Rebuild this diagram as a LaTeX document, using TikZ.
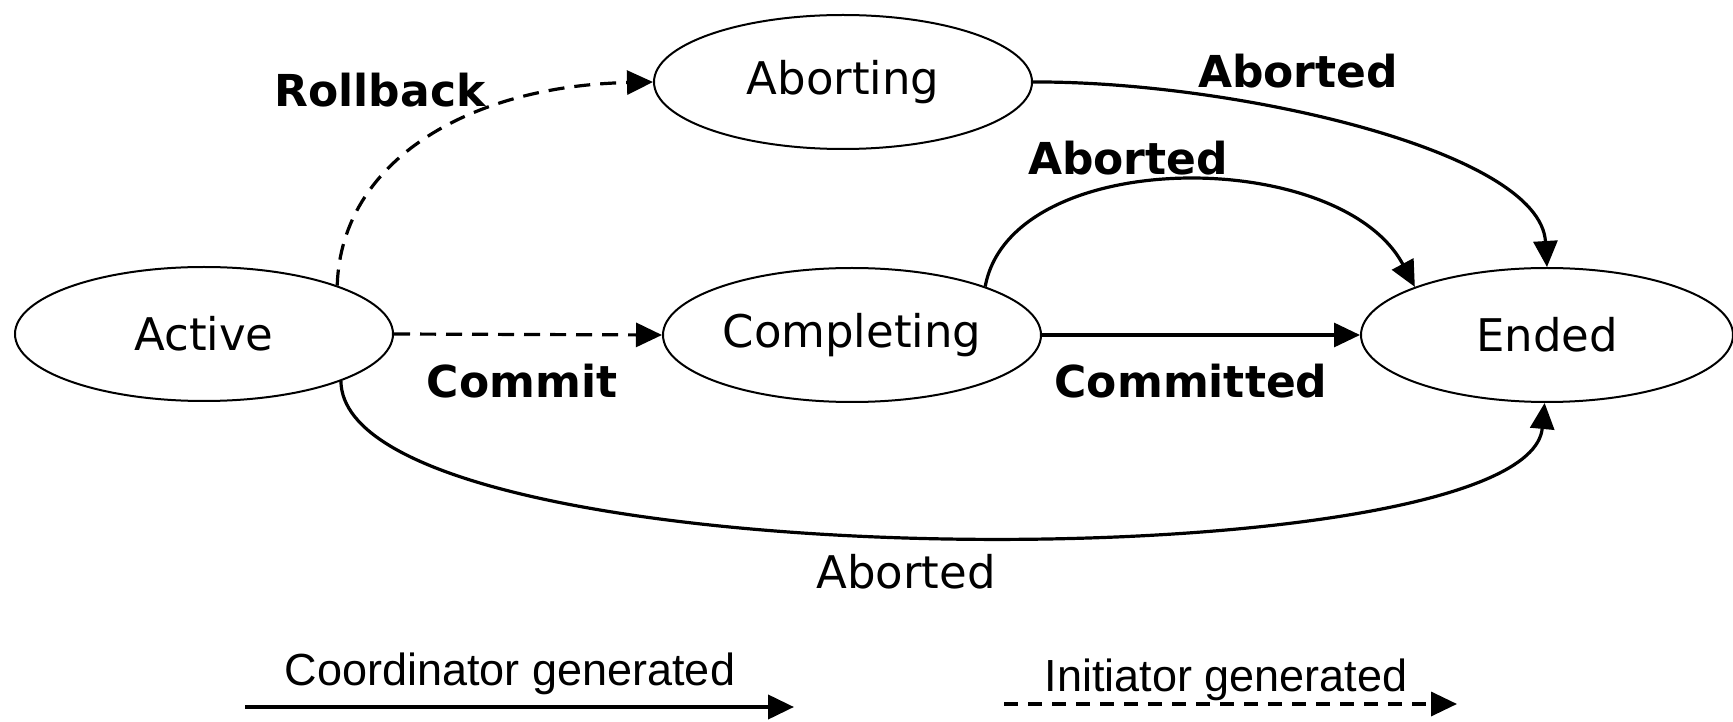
\documentclass[tikz,border=0pt]{standalone}
\usepackage{fontspec}
\setmainfont{DejaVu Sans}
\newfontfamily\legendfont{Liberation Sans}
\usetikzlibrary{shapes.geometric,arrows.meta}

\begin{document}
\begin{tikzpicture}[x=1pt,y=1pt,
  state/.style={draw, line width=2pt, ellipse, inner sep=0pt,
    minimum width=378pt, minimum height=134pt,
    font=\fontsize{45}{54}\selectfont},
  edgelbl/.style={anchor=base, inner sep=0pt, font=\fontsize{44}{52}\selectfont\bfseries},
  plainlbl/.style={anchor=base, inner sep=0pt, font=\fontsize{45}{54}\selectfont},
  legendlbl/.style={anchor=base, inner sep=0pt, font=\legendfont\fontsize{45}{54}\selectfont},
  tip/.style={-{Triangle[length=26pt,width=24pt]}},
  solidedge/.style={tip, line width=3.2pt},
  dashedge/.style={tip, line width=3.2pt, dash pattern=on 16pt off 10pt},
]
\useasboundingbox (0,0) rectangle (1733,721);

% states
\node[state] (act)  at (204,387)  {Active};
\node[state] (abrt) at (843,639)  {Aborting};
\node[state] (comp) at (852,386)  {Completing};
\node[state, minimum width=372pt] (ended) at (1547,386) {Ended};

% transitions
\draw[dashedge] (act.20) .. controls +(4,125) and +(-184,-4) .. (abrt.west);
\draw[dashedge] (act.east) -- (comp.west);
\draw[solidedge] (comp.east) -- (ended.west);
\draw[solidedge] (comp.20) .. controls +(26,141) and +(-75,141) .. (ended.160);
\draw[solidedge] (abrt.east) .. controls +(198,1) and +(-7,117) .. (ended.north);
\draw[solidedge] (act.-19) .. controls +(3,-202) and +(-17,-181) .. (ended.-92);

% transition labels
\node[edgelbl] (lroll)  at (380,614)  {Rollback};
\node[edgelbl] (labt1)  at (1298,633) {Aborted};
\node[edgelbl] (labt2)  at (1128,546) {Aborted};
\node[edgelbl] (lcomm)  at (522,323)  {Commit};
\node[edgelbl] (lcmtd)  at (1191,323) {Committed};
\node[plainlbl] (labt3) at (906,132)  {Aborted};

% legend
\coordinate (sa) at (245,14);
\coordinate (sb) at (794,14);
\coordinate (da) at (1004,17);
\coordinate (db) at (1457,17);
\draw[tip, line width=4pt] (sa) -- (sb);
\draw[tip, line width=3.5pt, dash pattern=on 14pt off 10pt] (da) -- (db);
\node[legendlbl] (lcoord) at (510,36) {Coordinator generated};
\node[legendlbl] (linit)  at (1226,30) {Initiator generated};
\end{tikzpicture}
\end{document}
